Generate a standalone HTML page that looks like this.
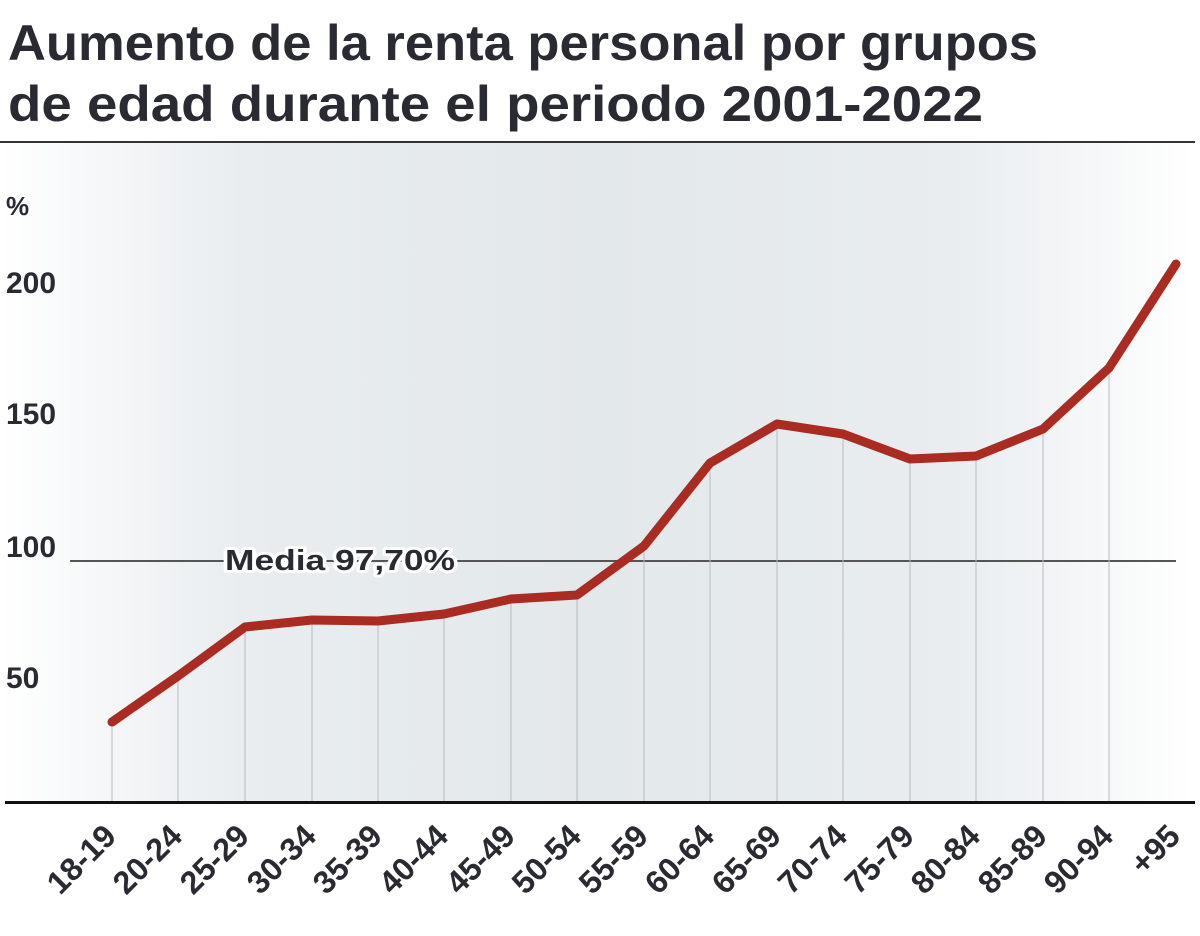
<!DOCTYPE html>
<html><head><meta charset="utf-8"><style>
html,body{margin:0;padding:0;background:#fff;width:1200px;height:936px;overflow:hidden}
</style></head><body>
<svg width="1200" height="936" viewBox="0 0 1200 936" xmlns="http://www.w3.org/2000/svg" font-family="'Liberation Sans', 'DejaVu Sans', sans-serif">
<defs>
<linearGradient id="bg" x1="0" x2="1" y1="0" y2="0">
<stop offset="0" stop-color="#ffffff"/>
<stop offset="0.2" stop-color="#e9edef"/>
<stop offset="0.5" stop-color="#e3e8ea"/>
<stop offset="0.8" stop-color="#e9edef"/>
<stop offset="1" stop-color="#ffffff"/>
</linearGradient>
</defs>
<text x="8" y="60" font-size="50" font-weight="bold" fill="#2a2a33" textLength="1030" lengthAdjust="spacingAndGlyphs">Aumento de la renta personal por grupos</text>
<text x="8" y="121" font-size="50" font-weight="bold" fill="#2a2a33" textLength="975" lengthAdjust="spacingAndGlyphs">de edad durante el periodo 2001-2022</text>
<rect x="0" y="141" width="1195" height="2" fill="#333"/>
<rect x="0" y="143" width="1195" height="659" fill="url(#bg)"/>
<g font-size="30" font-weight="bold" fill="#2a2a33">
<text x="6" y="215" font-size="26">%</text>
<text x="6" y="293">200</text>
<text x="6" y="424">150</text>
<text x="6" y="557">100</text>
<text x="6" y="688">50</text>
</g>
<line x1="70" y1="561" x2="1176" y2="561" stroke="#555" stroke-width="2"/>
<g stroke="#b8bcc0" stroke-width="1">
<line x1="112" y1="722" x2="112" y2="802"/><line x1="178" y1="676" x2="178" y2="802"/>
<line x1="245" y1="627" x2="245" y2="802"/><line x1="312" y1="620" x2="312" y2="802"/>
<line x1="378" y1="621" x2="378" y2="802"/><line x1="444" y1="614" x2="444" y2="802"/>
<line x1="511" y1="599" x2="511" y2="802"/><line x1="577" y1="595" x2="577" y2="802"/>
<line x1="644" y1="546" x2="644" y2="802"/><line x1="710" y1="463" x2="710" y2="802"/>
<line x1="777" y1="424" x2="777" y2="802"/><line x1="843" y1="434" x2="843" y2="802"/>
<line x1="910" y1="459" x2="910" y2="802"/><line x1="976" y1="456" x2="976" y2="802"/>
<line x1="1043" y1="429" x2="1043" y2="802"/><line x1="1109" y1="368" x2="1109" y2="802"/>
</g>
<text x="225" y="570" font-size="29" font-weight="bold" fill="#2a2a33" stroke="#fff" stroke-width="6" paint-order="stroke" stroke-linejoin="round" textLength="230" lengthAdjust="spacingAndGlyphs">Media 97,70%</text>
<polyline fill="none" stroke="#a92b22" stroke-width="9" stroke-linejoin="round" stroke-linecap="round" points="112,722 178,676 245,627 312,620 378,621 444,614 511,599 577,595 644,546 710,463 777,424 843,434 910,459 976,456 1043,429 1109,368 1176,264"/>
<rect x="5" y="801" width="1190" height="3" fill="#111"/>
<g font-size="32" font-weight="bold" fill="#2a2a33" text-anchor="end">
<text transform="translate(118,838) rotate(-45)">18-19</text>
<text transform="translate(184,838) rotate(-45)">20-24</text>
<text transform="translate(251,838) rotate(-45)">25-29</text>
<text transform="translate(318,838) rotate(-45)">30-34</text>
<text transform="translate(384,838) rotate(-45)">35-39</text>
<text transform="translate(450,838) rotate(-45)">40-44</text>
<text transform="translate(517,838) rotate(-45)">45-49</text>
<text transform="translate(583,838) rotate(-45)">50-54</text>
<text transform="translate(650,838) rotate(-45)">55-59</text>
<text transform="translate(716,838) rotate(-45)">60-64</text>
<text transform="translate(783,838) rotate(-45)">65-69</text>
<text transform="translate(849,838) rotate(-45)">70-74</text>
<text transform="translate(916,838) rotate(-45)">75-79</text>
<text transform="translate(982,838) rotate(-45)">80-84</text>
<text transform="translate(1049,838) rotate(-45)">85-89</text>
<text transform="translate(1115,838) rotate(-45)">90-94</text>
<text transform="translate(1182,838) rotate(-45)">+95</text>
</g>
</svg>
</body></html>
